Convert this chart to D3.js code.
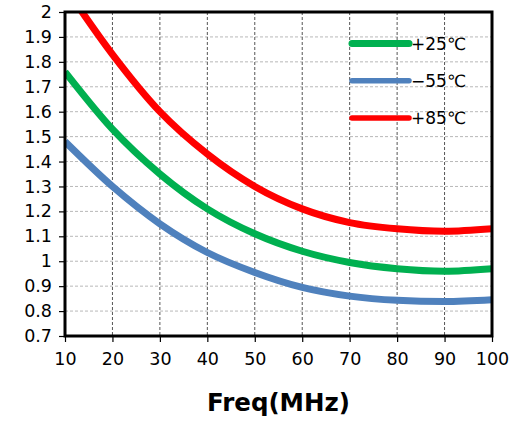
<!DOCTYPE html>
<html>
<head>
<meta charset="utf-8">
<script src="https://cdn.jsdelivr.net/npm/d3@7"></script>
<style>
  body { margin: 0; background: #fff; }
  text { font-family: "DejaVu Sans", Verdana, sans-serif; }
  .tick text { font-size: 17.5px; fill: #000; }
</style>
</head>
<body>
<svg width="510" height="422"></svg>
<script>
// data
var freq = [10, 20, 30, 40, 50, 60, 70, 80, 90, 100];
var t25  = [1.76, 1.53, 1.35, 1.21, 1.11, 1.04, 0.995, 0.97, 0.96, 0.97];
var tm55 = [1.48, 1.30, 1.15, 1.035, 0.955, 0.895, 0.86, 0.843, 0.838, 0.845];
var t85  = [2.10, 1.83, 1.60, 1.43, 1.30, 1.21, 1.155, 1.13, 1.12, 1.13];
var seriesNames = ["+25℃", "−55℃", "+85℃"];
var seriesColors = ["#00b050", "#4f81bd", "#ff0000"];
var yTicks = [0.7,0.8,0.9,1,1.1,1.2,1.3,1.4,1.5,1.6,1.7,1.8,1.9,2];

var margin = {left: 65, top: 12, right: 18, bottom: 86},
    width = 510 - margin.left - margin.right,
    height = 422 - margin.top - margin.bottom;

var svg = d3.select("svg");
var g = svg.append("g").attr("transform", "translate(" + [margin.left, margin.top] + ")");

var x = d3.scaleLinear().domain([10, 100]).range([0, width]);
var y = d3.scaleLinear().domain([0.7, 2]).range([height, 0]);

// grid
g.append("g").selectAll("line").data(yTicks.slice(1)).enter().append("line")
  .attr("x1", 0).attr("x2", width)
  .attr("y1", d => y(d)).attr("y2", d => y(d))
  .style("stroke", "#b8b8b8").style("stroke-dasharray", "3,2").style("stroke-width", 1);
g.append("g").selectAll("line").data(freq.slice(1)).enter().append("line")
  .attr("x1", d => x(d)).attr("x2", d => x(d))
  .attr("y1", 0).attr("y2", height)
  .style("stroke", "#555").style("stroke-dasharray", "3,2").style("stroke-width", 1);

// axes
var yAxis = g.append("g")
  .call(d3.axisLeft(y).tickValues(yTicks).tickSize(6).tickPadding(7).tickFormat(d3.format("")));
var xAxis = g.append("g").attr("transform", "translate(0," + height + ")")
  .call(d3.axisBottom(x).tickValues(freq).tickSize(6).tickPadding(11));
[yAxis, xAxis].forEach(a => {
  a.select(".domain").remove();
  a.selectAll(".tick line").style("stroke", "#000").style("stroke-width", 1.2);
});

// curves
g.append("clipPath").attr("id", "clip").append("rect")
  .attr("width", width).attr("height", height);

var line = d3.line()
  .x((d, i) => x(freq[i]))
  .y(d => y(d))
  .curve(d3.curveMonotoneX);

var data = [t25, tm55, t85];
g.append("g").attr("clip-path", "url(#clip)")
  .selectAll("path").data(data).enter().append("path")
  .attr("d", line)
  .style("fill", "none")
  .style("stroke", (d, i) => seriesColors[i])
  .style("stroke-width", 7);

// frame
g.append("rect").attr("width", width).attr("height", height)
  .style("fill", "none").style("stroke", "#000").style("stroke-width", 3);

// legend
var legend = g.selectAll(".legend").data(seriesNames).enter().append("g")
  .attr("transform", (d, i) => "translate(" + [287, 31.5 + i * 37.2] + ")");
legend.append("line")
  .attr("x1", 0).attr("x2", 57)
  .style("stroke", (d, i) => seriesColors[i])
  .style("stroke-width", (d, i) => i == 0 ? 7 : 5.5)
  .style("stroke-linecap", "round");
legend.append("text")
  .attr("x", 59).attr("y", 6.5)
  .style("font-size", "17px")
  .text(d => d);

// x title
svg.append("text")
  .attr("x", margin.left + width / 2).attr("y", 411)
  .attr("text-anchor", "middle")
  .style("font-size", "24.5px").style("font-weight", "bold")
  .text("Freq(MHz)");
</script>
</body>
</html>
